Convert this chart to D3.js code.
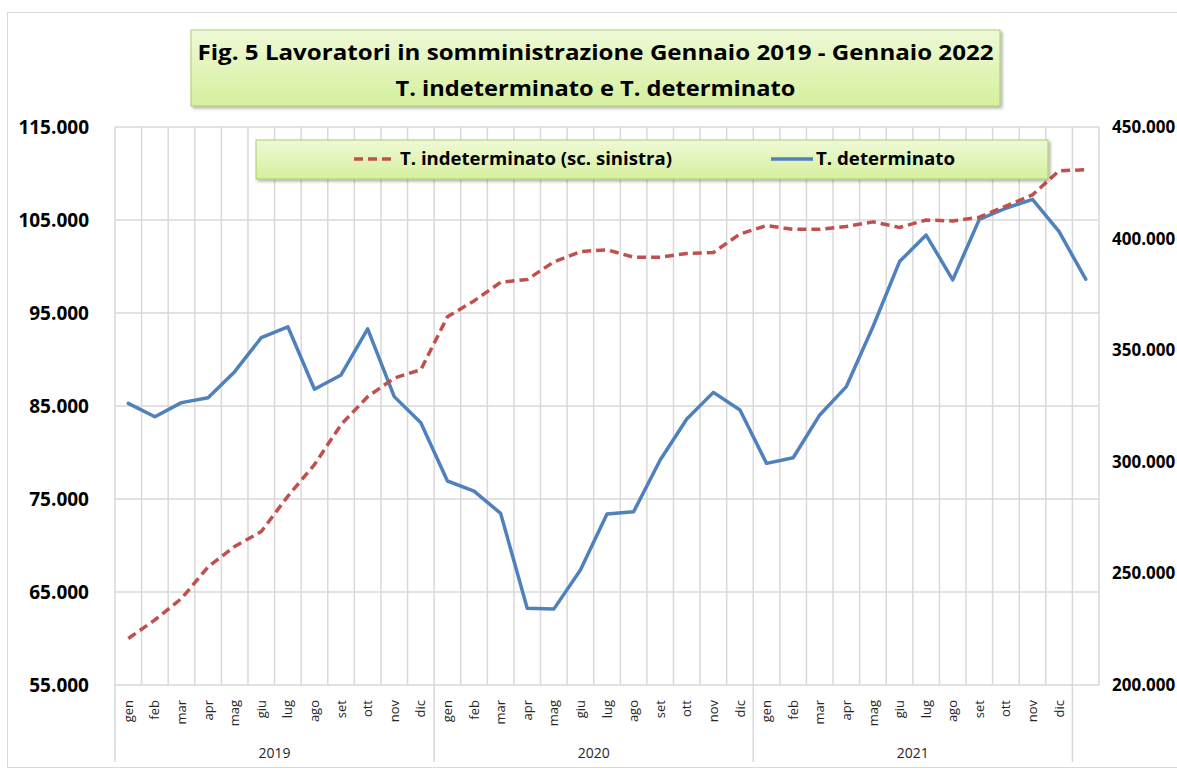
<!DOCTYPE html>
<html lang="it">
<head>
<meta charset="utf-8">
<title>Fig. 5 Lavoratori in somministrazione</title>
<script src="https://cdn.jsdelivr.net/npm/d3@7"></script>
<style>
  html, body { margin: 0; padding: 0; background: #fff; }
  svg { display: block; font-family: 'Open Sans', 'Noto Sans', sans-serif; }
</style>
</head>
<body>
<div id="chart"></div>
<script>
// --- data ---
const months = ['gen', 'feb', 'mar', 'apr', 'mag', 'giu', 'lug', 'ago', 'set', 'ott', 'nov', 'dic'];
const years = ['2019', '2020', '2021'];
const lastCategory = 'gen 2022'; // final point, drawn without a label

const indeterminato = [
  60000, 62000, 64300, 67700, 69900, 71500, 75300, 78700, 83000, 86000, 88000, 88900,
  94600, 96300, 98300, 98600, 100500, 101600, 101800, 101000, 101000, 101400, 101500, 103500,
  104400, 104000, 104000, 104300, 104800, 104200, 105000, 104900, 105300, 106500, 107700, 110300,
  110400,
];
const determinato = [
  326200, 320200, 326500, 328700, 340400, 355600, 360500, 332500, 338900, 359600, 329200, 317500,
  291400, 286900, 276900, 234400, 234000, 251500, 276600, 277600, 300800, 319200, 331100, 323200,
  299300, 301800, 321000, 333700, 360500, 389700, 401600, 381500, 408600, 413600, 417600, 403100,
  381800,
];

const leftTicks = [55000, 65000, 75000, 85000, 95000, 105000, 115000];
const rightTicks = [200000, 250000, 300000, 350000, 400000, 450000];

const titleLines = [
  'Fig. 5 Lavoratori in somministrazione Gennaio 2019 - Gennaio 2022',
  'T. indeterminato e T. determinato',
];
const legendLabels = ['T. indeterminato (sc. sinistra)', 'T. determinato'];

// --- layout ---
const W = 1177, H = 771;
const PLOT = { left: 115, right: 1099, top: 127, bottom: 685 };
const RED = '#c0504d';
const BLUE = '#4f81bd';
const GRID = '#d9d9d9';

const categories = years.flatMap(y => months.map(m => `${m} ${y}`)).concat([lastCategory]);
const fmt = d3.formatLocale({ decimal: ',', thousands: '.', grouping: [3], currency: ['', '€'] }).format(',');

const x = d3.scaleBand().domain(categories).range([PLOT.left, PLOT.right]).padding(0);
const cx = c => x(c) + x.bandwidth() / 2;
const yL = d3.scaleLinear().domain([55000, 115000]).range([PLOT.bottom, PLOT.top]);
const yR = d3.scaleLinear().domain([200000, 450000]).range([PLOT.bottom, PLOT.top]);

const svg = d3.select('#chart').append('svg')
  .attr('width', W)
  .attr('height', H);

// shadow + box gradient
const defs = svg.append('defs');
const grad = defs.append('linearGradient').attr('id', 'boxFill')
  .attr('x1', 0).attr('y1', 0).attr('x2', 0).attr('y2', 1);
grad.append('stop').attr('offset', '0%').attr('stop-color', '#eef9d6');
grad.append('stop').attr('offset', '100%').attr('stop-color', '#d6f09e');
const shadow = defs.append('filter').attr('id', 'shadow')
  .attr('x', '-5%').attr('y', '-20%').attr('width', '110%').attr('height', '150%');
shadow.append('feDropShadow')
  .attr('dx', 2).attr('dy', 2).attr('stdDeviation', 1.5)
  .attr('flood-color', '#000').attr('flood-opacity', 0.3);

// outer chart border
svg.append('rect')
  .attr('x', 7.5).attr('y', 12.5)
  .attr('width', 1200).attr('height', 755)
  .attr('fill', 'none')
  .attr('stroke', GRID)
  .attr('stroke-width', 1);

// Gridlines
const grid = svg.append('g').attr('class', 'grid');
grid.selectAll('.hgrid')
  .data(leftTicks)
  .join('line')
  .attr('class', 'hgrid')
  .attr('x1', PLOT.left).attr('x2', PLOT.right)
  .attr('y1', d => yL(d)).attr('y2', d => yL(d))
  .attr('stroke', GRID).attr('stroke-width', 1.5);

const bandEdges = categories.map(c => x(c)).concat([PLOT.right]);
grid.selectAll('.vgrid')
  .data(bandEdges)
  .join('line')
  .attr('class', 'vgrid')
  .attr('x1', d => d).attr('x2', d => d)
  .attr('y1', PLOT.top).attr('y2', PLOT.bottom)
  .attr('stroke', GRID).attr('stroke-width', 1.5);

// year group separators below the plot
const groupEdges = years.map(y => x(`gen ${y}`)).concat([x(lastCategory)]);
grid.selectAll('.ysep')
  .data(groupEdges)
  .join('line')
  .attr('class', 'ysep')
  .attr('x1', d => d).attr('x2', d => d)
  .attr('y1', PLOT.bottom).attr('y2', 762)
  .attr('stroke', GRID).attr('stroke-width', 1.5);

// Left axis
const axisL = svg.append('g')
  .attr('transform', `translate(${PLOT.left}, 0)`)
  .call(d3.axisLeft(yL).tickValues(leftTicks).tickFormat(fmt).tickSize(0).tickPadding(26));
axisL.select('.domain').remove();
axisL.selectAll('text')
  .attr('font-family', "'Open Sans', sans-serif")
  .attr('font-size', 19)
  .attr('font-weight', 700)
  .attr('fill', '#000');

// Right axis (a bit smaller so the labels stay inside the window)
const axisR = svg.append('g')
  .attr('transform', `translate(${PLOT.right}, 0)`)
  .call(d3.axisRight(yR).tickValues(rightTicks).tickFormat(fmt).tickSize(0).tickPadding(13));
axisR.select('.domain').remove();
axisR.selectAll('text')
  .attr('font-family', "'Open Sans', sans-serif")
  .attr('font-size', 17)
  .attr('font-weight', 700)
  .attr('fill', '#000');

// Bottom axis: rotated month names
const axisB = svg.append('g')
  .attr('transform', `translate(0, ${PLOT.bottom})`)
  .call(d3.axisBottom(x).tickSize(0).tickFormat(c => c === lastCategory ? '' : c.split(' ')[0]));
axisB.select('.domain').remove();
axisB.selectAll('text')
  .attr('transform', 'rotate(-90)')
  .attr('text-anchor', 'end')
  .attr('x', -15)
  .attr('y', 0)
  .attr('dy', '0.35em')
  .attr('font-family', "'Open Sans', sans-serif")
  .attr('font-size', 13)
  .attr('fill', '#262626');

// Year labels
svg.append('g').selectAll('text')
  .data(years)
  .join('text')
  .attr('x', (y, i) => (groupEdges[i] + groupEdges[i + 1]) / 2)
  .attr('y', 758)
  .attr('text-anchor', 'middle')
  .attr('font-size', 14)
  .attr('fill', '#262626')
  .text(y => y);

// Series
const lineL = d3.line().x((d, i) => cx(categories[i])).y(d => yL(d));
const lineR = d3.line().x((d, i) => cx(categories[i])).y(d => yR(d));

svg.append('path')
  .datum(determinato)
  .attr('d', lineR)
  .attr('fill', 'none')
  .attr('stroke', BLUE)
  .attr('stroke-width', 3.5)
  .attr('stroke-linejoin', 'round')
  .attr('stroke-linecap', 'round');

svg.append('path')
  .datum(indeterminato)
  .attr('d', lineL)
  .attr('fill', 'none')
  .attr('stroke', RED)
  .attr('stroke-width', 3.5)
  .attr('stroke-linejoin', 'round')
  .attr('stroke-dasharray', '9,5');

// Title box
const title = svg.append('g');
title.append('rect')
  .attr('x', 191).attr('y', 30)
  .attr('width', 809).attr('height', 76)
  .attr('fill', 'url(#boxFill)')
  .attr('stroke', '#a7cd68')
  .attr('stroke-width', 1)
  .attr('filter', 'url(#shadow)');
title.selectAll('text')
  .data(titleLines)
  .join('text')
  .attr('x', 595.5)
  .attr('y', (d, i) => 60 + i * 36)
  .attr('text-anchor', 'middle')
  .attr('font-size', 21)
  .attr('font-weight', 700)
  .attr('fill', '#000')
  .attr('textLength', (d, i) => i === 0 ? 796 : 400)
  .attr('lengthAdjust', 'spacingAndGlyphs')
  .text(d => d);

// Legend box
const legend = svg.append('g');
legend.append('rect')
  .attr('x', 256).attr('y', 140)
  .attr('width', 792).attr('height', 39)
  .attr('fill', 'url(#boxFill)')
  .attr('stroke', '#a7cd68')
  .attr('stroke-width', 1)
  .attr('filter', 'url(#shadow)');

const legendItems = [
  { label: legendLabels[0], color: RED, dash: '9,5', x0: 354, x1: 393, tx: 400, tw: 272 },
  { label: legendLabels[1], color: BLUE, dash: null, x0: 771, x1: 813, tx: 816, tw: 139 },
];
legendItems.forEach(it => {
  legend.append('line')
    .attr('x1', it.x0).attr('x2', it.x1)
    .attr('y1', 159).attr('y2', 159)
    .attr('stroke', it.color)
    .attr('stroke-width', 3.5)
    .attr('stroke-dasharray', it.dash);
  legend.append('text')
    .attr('x', it.tx)
    .attr('y', 165)
    .attr('font-size', 17)
    .attr('font-weight', 700)
    .attr('fill', '#000')
    .attr('textLength', it.tw)
    .attr('lengthAdjust', 'spacingAndGlyphs')
    .text(it.label);
});
</script>
</body>
</html>
